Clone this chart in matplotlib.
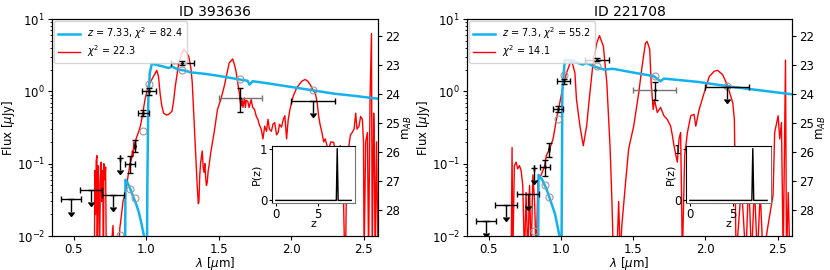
import numpy as np
import matplotlib
matplotlib.use("Agg")
import matplotlib.pyplot as plt

# ---- photometry (shared filter set) ----
filt_wave = [0.48, 0.62, 0.77, 0.816, 0.89, 0.921, 0.98, 1.02, 1.25, 1.65, 2.15]
filt_hw = [0.07, 0.075, 0.075, 0.0, 0.035, 0.0, 0.038, 0.046, 0.08, 0.15, 0.15]

# ID 393636
a_flux = [0.032, 0.043, 0.037, 0.119, 0.10, 0.178, 0.50, 1.0, 2.47, 0.82, 0.73]
a_err = [0.0, 0.0, 0.0, 0.0, 0.026, 0.035, 0.05, 0.1, 0.13, 0.3, 0.0]
a_upper = [True, True, True, True, False, False, False, False, False, False, True]
a_model_wave = [0.816, 0.89, 0.921, 0.98, 1.02, 1.25, 1.65, 2.15]
a_model_flux = [0.0102, 0.044, 0.034, 0.285, 1.28, 1.95, 1.49, 1.04]

# ID 221708
b_flux = [0.016, 0.027, 0.038, 0.087, 0.089, 0.16, 0.575, 1.38, 2.74, 1.06, 1.15]
b_err = [0.0, 0.0, 0.0, 0.0, 0.022, 0.036, 0.05, 0.12, 0.15, 0.3, 0.3]
b_upper = a_upper
b_model_wave = [0.816, 0.89, 0.921, 0.98, 1.02, 1.25, 1.65, 2.15]
b_model_flux = [0.0117, 0.05, 0.035, 0.42, 1.7, 2.25, 1.65, 1.2]

# ---- high-z galaxy template (blue) ----
a_gal_wave = [0.30, 0.85, 0.853, 0.857, 0.87, 0.89, 0.91, 0.93, 0.95, 0.97, 0.985,
              0.995, 1.005, 1.008, 1.015, 1.025, 1.039, 1.06, 1.1, 1.155, 1.178, 1.22,
              1.26, 1.306, 1.4, 1.48, 1.56, 1.643, 1.7, 1.713, 1.736, 1.85, 2.062,
              2.294, 2.45, 2.6]
a_gal_flux = [1e-4, 1e-4, 0.001, 0.06, 0.055, 0.045, 0.035, 0.028, 0.021, 0.014, 0.01,
              0.006, 0.003, 0.05, 0.8, 1.8, 2.4, 2.35, 2.25, 2.1, 2.2, 2.0,
              1.95, 1.83, 1.75, 1.66, 1.56, 1.46, 1.4, 1.24, 1.38, 1.28, 1.1,
              0.93, 0.86, 0.79]

b_gal_wave = [0.30, 0.838, 0.841, 0.845, 0.87, 0.9, 0.93, 0.96, 0.99, 1.0, 1.004,
              1.01, 1.027, 1.08, 1.15, 1.178, 1.225, 1.3, 1.36, 1.48, 1.643, 1.69,
              1.713, 1.95, 2.19, 2.6]
b_gal_flux = [1e-4, 1e-4, 0.001, 0.07, 0.06, 0.045, 0.03, 0.02, 0.01, 0.004, 0.004,
              1.0, 2.7, 2.65, 2.34, 2.47, 2.22, 2.0, 2.05, 1.85, 1.62, 1.38,
              1.5, 1.35, 1.15, 0.91]

# ---- brown dwarf template (red) ----
a_bd_wave = [0.60, 0.643, 0.645, 0.650, 0.655, 0.66, 0.662, 0.667, 0.672, 0.678, 0.685,
             0.69, 0.695, 0.70, 0.705, 0.708, 0.715, 0.72, 0.725, 0.735, 0.75, 0.771,
             0.78, 0.794, 0.805, 0.818, 0.83, 0.84, 0.853, 0.865, 0.876, 0.888, 0.899,
             0.905, 0.91, 0.915, 0.922, 0.93, 0.946, 0.96, 0.969, 0.98, 0.992, 1.005,
             1.015, 1.039, 1.06, 1.073, 1.085, 1.097, 1.108, 1.12, 1.14, 1.155, 1.178,
             1.19, 1.201, 1.225, 1.245, 1.26, 1.275, 1.294, 1.31, 1.318, 1.329, 1.341,
             1.352, 1.36, 1.364, 1.37, 1.376, 1.387, 1.393, 1.399, 1.405, 1.411, 1.416,
             1.422, 1.428, 1.434, 1.446, 1.469, 1.492, 1.515, 1.539, 1.573, 1.597, 1.61,
             1.62, 1.632, 1.643, 1.65, 1.655, 1.66, 1.668, 1.678, 1.685, 1.69, 1.701,
             1.71, 1.725, 1.735, 1.748, 1.76, 1.771, 1.78, 1.794, 1.806, 1.818, 1.83,
             1.841, 1.85, 1.864, 1.875, 1.887, 1.9, 1.911, 1.92, 1.934, 1.945, 1.957,
             1.969, 1.98, 1.992, 2.015, 2.039, 2.074, 2.097, 2.115, 2.132, 2.15, 2.167,
             2.18, 2.19, 2.2, 2.213, 2.225, 2.236, 2.25, 2.26, 2.275, 2.294, 2.305,
             2.318, 2.33, 2.341, 2.355, 2.364, 2.37, 2.376, 2.385, 2.399, 2.41, 2.422,
             2.435, 2.446, 2.455, 2.469, 2.48, 2.492, 2.5, 2.504, 2.515, 2.527, 2.535,
             2.545, 2.555, 2.56, 2.57, 2.574, 2.58, 2.59, 2.6]
a_bd_flux = [0.003, 0.003, 0.08, 0.02, 0.11, 0.129, 0.004, 0.094, 0.06, 0.005, 0.09,
             0.105, 0.03, 0.08, 0.004, 0.10, 0.06, 0.09, 0.004, 0.008, 0.004, 0.014,
             0.004, 0.008, 0.004, 0.0128, 0.02, 0.03, 0.037, 0.05, 0.07, 0.10, 0.116,
             0.15, 0.13, 0.2, 0.16, 0.22, 0.27, 0.33, 0.41, 0.56, 0.77, 1.0,
             1.2, 1.46, 1.75, 1.95, 1.6, 0.9, 0.63, 0.5, 0.47, 0.48, 0.53,
             0.75, 1.18, 2.47, 3.3, 3.84, 3.5, 3.04, 2.0, 1.31, 0.46, 0.14,
             0.05, 0.028, 0.03, 0.07, 0.105, 0.15, 0.09, 0.076, 0.1, 0.062, 0.05,
             0.056, 0.08, 0.094, 0.144, 0.27, 0.56, 0.77, 1.18, 2.47, 2.8, 2.3,
             1.9, 1.3, 0.955, 0.7, 0.63, 0.8, 0.6, 0.81, 0.6, 0.75, 0.73,
             0.6, 0.77, 0.6, 0.56, 0.45, 0.41, 0.35, 0.30, 0.22, 0.33, 0.28,
             0.41, 0.3, 0.28, 0.35, 0.37, 0.25, 0.27, 0.35, 0.32, 0.4, 0.46,
             0.22, 0.4, 0.56, 0.86, 1.12, 1.38, 1.46, 1.38, 1.24, 1.05, 0.955,
             0.7, 0.46, 0.35, 0.27, 0.2, 0.22, 0.17, 0.16, 0.2, 0.197, 0.15,
             0.144, 0.17, 0.177, 0.15, 0.02, 0.005, 0.005, 0.15, 0.177, 0.25, 0.27,
             0.3, 0.5, 0.3, 0.33, 0.45, 0.41, 0.2, 0.005, 0.2, 0.27, 0.005,
             0.8, 6.3, 0.005, 0.5, 0.27, 0.005, 0.2, 0.005]

b_bd_wave = [0.60, 0.655, 0.662, 0.667, 0.678, 0.69, 0.701, 0.713, 0.725, 0.736, 0.748,
             0.759, 0.771, 0.783, 0.794, 0.806, 0.818, 0.829, 0.841, 0.864, 0.887, 0.899,
             0.922, 0.946, 0.969, 0.992, 1.015, 1.039, 1.073, 1.097, 1.108, 1.132, 1.155,
             1.178, 1.201, 1.225, 1.248, 1.267, 1.294, 1.318, 1.341, 1.353, 1.364, 1.387,
             1.4, 1.411, 1.422, 1.446, 1.469, 1.504, 1.539, 1.562, 1.585, 1.597, 1.615,
             1.625, 1.639, 1.648, 1.667, 1.69, 1.713, 1.736, 1.76, 1.771, 1.783, 1.806,
             1.818, 1.829, 1.841, 1.857, 1.876, 1.899, 1.922, 1.934, 1.957, 1.992, 2.027,
             2.062, 2.085, 2.12, 2.155, 2.19, 2.201, 2.213, 2.25, 2.28, 2.3, 2.32,
             2.34, 2.36, 2.38, 2.40, 2.434, 2.469, 2.48, 2.504, 2.515, 2.527, 2.539,
             2.555, 2.562, 2.574, 2.585, 2.6]
b_bd_flux = [0.003, 0.003, 0.167, 0.005, 0.094, 0.105, 0.085, 0.094, 0.08, 0.05, 0.005,
             0.04, 0.005, 0.05, 0.005, 0.07, 0.03, 0.005, 0.06, 0.07, 0.094, 0.129,
             0.16, 0.22, 0.41, 0.69, 1.18, 1.8, 2.74, 1.8, 0.77, 0.33, 0.177,
             0.33, 0.955, 2.74, 4.6, 5.9, 4.2, 1.31, 0.16, 0.032, 0.005, 0.005,
             0.03, 0.005, 0.014, 0.05, 0.16, 0.33, 0.955, 2.2, 4.6, 4.9, 3.8,
             1.3, 0.56, 0.77, 0.51, 0.6, 0.46, 0.41, 0.33, 0.25, 0.177, 0.105,
             0.22, 0.27, 0.005, 0.129, 0.27, 0.46, 0.48, 0.33, 0.56, 0.955, 1.6,
             1.9, 1.95, 1.7, 1.18, 0.69, 0.41, 0.005, 0.05, 0.005, 0.06, 0.005,
             0.05, 0.005, 0.04, 0.005, 0.014, 0.037, 0.27, 0.46, 0.22, 0.37, 0.005,
             2.7, 0.005, 0.04, 0.005, 0.005]

# ---- P(z) ----
pz_z = [0.0, 7.0, 7.22, 7.33, 7.44, 9.0]
a_pz = [0.0, 0.0, 0.0, 1.0, 0.0, 0.0]
b_pz = [0.0, 0.0, 0.0, 1.0, 0.0, 0.0]

panels = [
    dict(title="ID 393636", flux=a_flux, err=a_err, upper=a_upper,
         mwave=a_model_wave, mflux=a_model_flux,
         gwave=a_gal_wave, gflux=a_gal_flux, bwave=a_bd_wave, bflux=a_bd_flux,
         glabel=r"$z$ = 7.33, $\chi^2$ = 82.4", blabel=r"$\chi^2$ = 22.3", pz=a_pz,
         pos=[52 / 830, 34 / 270, 326 / 830, 217 / 270],
         inset=[272 / 830, 67 / 270, 83 / 830, 57 / 270]),
    dict(title="ID 221708", flux=b_flux, err=b_err, upper=b_upper,
         mwave=b_model_wave, mflux=b_model_flux,
         gwave=b_gal_wave, gflux=b_gal_flux, bwave=b_bd_wave, bflux=b_bd_flux,
         glabel=r"$z$ = 7.3, $\chi^2$ = 55.2", blabel=r"$\chi^2$ = 14.1", pz=b_pz,
         pos=[467 / 830, 34 / 270, 325 / 830, 217 / 270],
         inset=[686 / 830, 67 / 270, 85 / 830, 57 / 270]),
]

fig = plt.figure(figsize=(8.3, 2.7), dpi=100)
blue = "#12b2ee"

for p in panels:
    ax = fig.add_axes(p["pos"])
    ax.plot(p["gwave"], p["gflux"], color=blue, lw=1.8, label=p["glabel"], zorder=3)
    ax.plot(p["bwave"], p["bflux"], color="red", lw=1.0, label=p["blabel"], zorder=2)

    ax.plot(p["mwave"], p["mflux"], "o", mfc="none", mec="0.6", ms=5, mew=0.8, zorder=4)

    w = np.array(filt_wave)
    hw = np.array(filt_hw)
    f = np.array(p["flux"])
    e = np.array(p["err"])
    up = np.array(p["upper"])
    for i in range(len(w)):
        if up[i]:
            ax.errorbar(w[i], f[i], xerr=hw[i], yerr=0.32 * f[i], uplims=True,
                        color="k", ecolor="k", lw=1.0, capsize=2, fmt="none", zorder=5)
        else:
            xcol = "0.45" if filt_wave[i] == 1.65 else "k"
            ax.errorbar(w[i], f[i], xerr=hw[i], color=xcol, ecolor=xcol, lw=1.0,
                        capsize=2, fmt="none", zorder=5)
            ax.errorbar(w[i], f[i], yerr=e[i], color="k", ecolor="k", lw=1.0,
                        capsize=2, fmt=".", ms=2, zorder=6)

    ax.set_yscale("log")
    ax.set_ylim(1e-2, 1e1)
    ax.set_xlim(0.35, 2.6)
    ax.set_xticks([0.5, 1.0, 1.5, 2.0, 2.5])
    ax.set_xlabel(r"$\lambda$ [$\mu$m]", fontsize=8.5, labelpad=-1)
    ax.set_ylabel(r"Flux [$\mu$Jy]", fontsize=8.5, labelpad=0)
    ax.set_title(p["title"], fontsize=10, pad=2)
    ax.tick_params(labelsize=8.5, length=3, pad=2)
    ax.tick_params(which="minor", length=1.8)
    ax.legend(loc="upper left", fontsize=7, handlelength=2.2, borderaxespad=0.25,
              labelspacing=0.25, borderpad=0.4)

    ax2 = ax.twinx()
    ax2.set_ylim(23.9 + 2.5 * 2, 23.9 - 2.5 * 1)
    ax2.set_yticks([22, 23, 24, 25, 26, 27, 28])
    ax2.set_ylabel(r"m$_{AB}$", fontsize=8.5, labelpad=1)
    ax2.tick_params(labelsize=8.5, length=3, pad=2)

    ins = fig.add_axes(p["inset"])
    ins.plot(pz_z, p["pz"], color="k", lw=1.0)
    ins.set_xticks([0, 5])
    ins.set_yticks([0, 1])
    ins.tick_params(labelsize=8.5, pad=1, length=2.5)
    ins.set_xlabel("z", fontsize=8, labelpad=-1)
    ins.set_ylabel("P(z)", fontsize=8, labelpad=-1)
    for s in ["right", "bottom"]:
        ins.spines[s].set_color("0.45")

fig.savefig("out.png", dpi=100)
